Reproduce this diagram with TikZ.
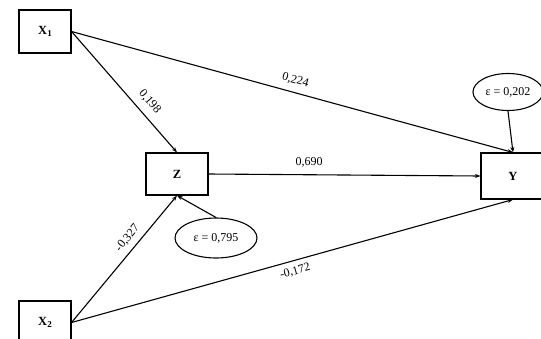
\documentclass[tikz,border=0pt]{standalone}
\usepackage{fontspec}
\setmainfont{Liberation Serif}
\usetikzlibrary{arrows.meta,shapes.geometric}
\begin{document}
\begin{tikzpicture}[x=1pt,y=-1pt,
  font=\fontsize{12}{14}\selectfont,
  var/.style={draw,line width=1.1pt,rectangle,inner sep=0pt,font=\fontsize{12.5}{14}\selectfont\bfseries},
  err/.style={draw,line width=1.1pt,ellipse,inner sep=0pt},
  path/.style={line width=1.1pt,-{Stealth[length=5.5pt,width=4pt]}},
  lab/.style={font=\fontsize{12}{14}\selectfont}]
\useasboundingbox (0,0) rectangle (541,338);
\clip (0,0) rectangle (541,338);
\node[var,minimum width=52pt,minimum height=43pt] (X1) at (45,31.5) {X\raisebox{-0.35ex}{\fontsize{9}{10}\selectfont 1}};
\node[var,minimum width=52pt,minimum height=43pt] (X2) at (45,322.5) {X\raisebox{-0.35ex}{\fontsize{9}{10}\selectfont 2}};
\node[var,minimum width=62pt,minimum height=42pt] (Z) at (177,174) {Z};
\node[var,minimum width=64pt,minimum height=46pt] (Y) at (513,176) {Y};
\node[err,minimum width=70pt,minimum height=37pt] (E1) at (508,92) {ε = 0,202};
\node[err,minimum width=82pt,minimum height=40pt] (E2) at (216,238) {ε = 0,795};
\draw[path] (X1.east) -- node[lab,pos=0.65,sloped,above=4pt]{0,198} (Z.north);
\draw[path] (X1.east) -- node[lab,pos=0.5,sloped,above=3pt]{0,224} (Y.north);
\draw[path] (E1.south) -- (Y.north);
\draw[path] (Z.east) -- node[lab,pos=0.37,above=4pt]{0,690} (Y.west);
\draw[path] (X2.east) -- node[lab,pos=0.61,sloped,above=2pt]{-0,327} (Z.south);
\draw[path] (X2.east) -- node[lab,pos=0.5,sloped,below=2pt]{-0,172} (Y.south);
\draw[path] (E2.north) -- (Z.south);
\end{tikzpicture}
\end{document}
